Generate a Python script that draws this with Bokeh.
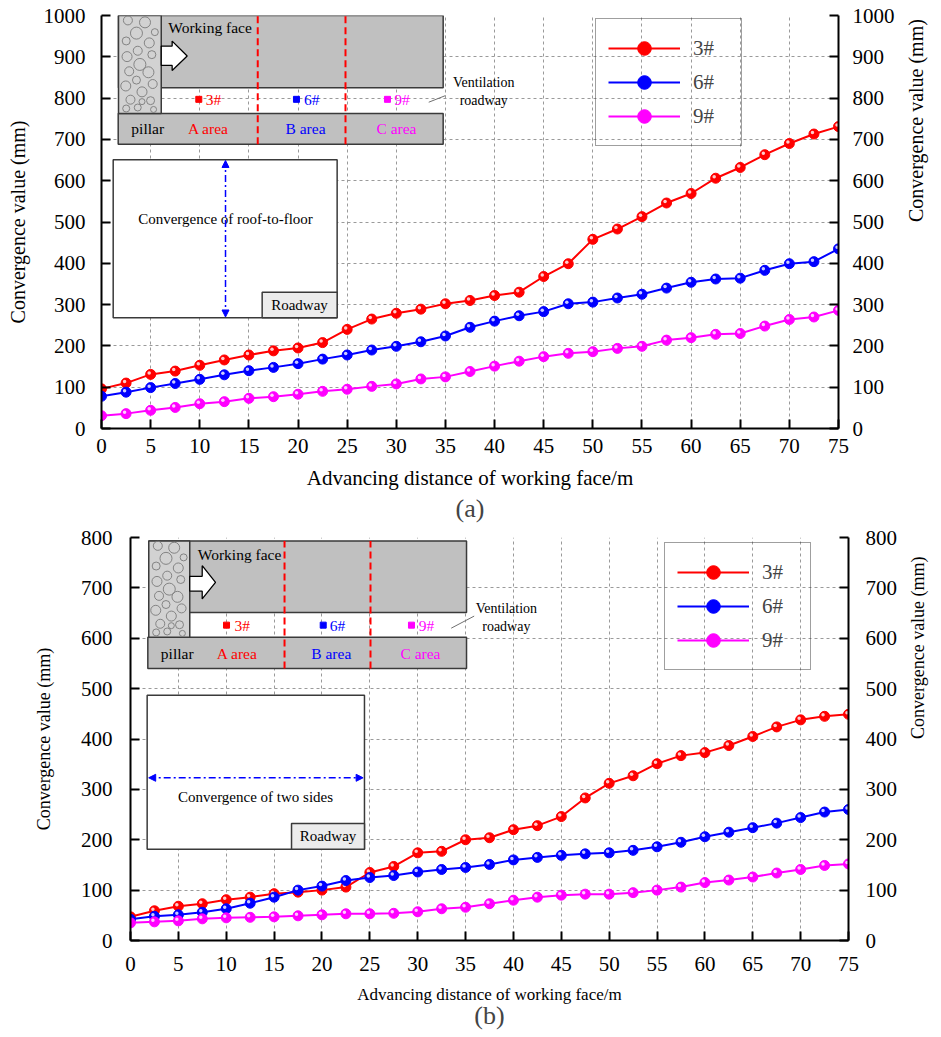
import math
from bokeh.plotting import figure
from bokeh.models import (LinearAxis, Title, Legend, LegendItem, Arrow, NormalHead,
                          FixedTicker, ColumnDataSource)
from bokeh.transform import dodge
from bokeh.core.properties import value
from bokeh.embed import file_html
from bokeh.resources import INLINE

# ---------------- data ----------------
distance = [0, 2.5, 5, 7.5, 10, 12.5, 15, 17.5, 20, 22.5, 25, 27.5, 30, 32.5, 35, 37.5,
            40, 42.5, 45, 47.5, 50, 52.5, 55, 57.5, 60, 62.5, 65, 67.5, 70, 72.5, 75]
series_names = ["3#", "6#", "9#"]
series_colors = ["#ff0000", "#0000ff", "#ff00ff"]

roof_3 = [96, 110, 131, 139, 153, 166, 178, 188, 195, 208, 240, 265, 279, 289, 302, 310,
          322, 330, 368, 399, 458, 483, 513, 546, 569, 606, 632, 663, 690, 713, 731]
roof_6 = [78, 88, 99, 109, 119, 130, 140, 148, 157, 168, 178, 190, 199, 210, 224, 245,
          260, 273, 283, 302, 306, 316, 325, 340, 354, 362, 364, 383, 399, 404, 435]
roof_9 = [31, 36, 44, 51, 60, 65, 73, 77, 83, 90, 95, 102, 108, 120, 125, 138,
          151, 163, 174, 182, 186, 194, 199, 214, 220, 228, 230, 248, 264, 270, 286]

sides_3 = [47, 59, 68, 73, 81, 86, 93, 96, 100, 106, 135, 147, 174, 177, 200, 204,
           220, 228, 246, 283, 312, 327, 351, 367, 373, 387, 405, 424, 438, 445, 449]
sides_6 = [42, 48, 51, 56, 63, 74, 86, 100, 108, 119, 125, 129, 136, 141, 145, 151,
           160, 165, 169, 172, 174, 179, 186, 195, 206, 215, 224, 233, 244, 255, 260]
sides_9 = [35, 37, 39, 43, 45, 46, 47, 49, 51, 53, 53, 54, 57, 63, 66, 73,
           80, 86, 90, 92, 92, 95, 100, 106, 115, 120, 126, 134, 141, 149, 152]

x_ticks = [0, 5, 10, 15, 20, 25, 30, 35, 40, 45, 50, 55, 60, 65, 70, 75]
y_ticks_a = [0, 100, 200, 300, 400, 500, 600, 700, 800, 900, 1000]
y_ticks_b = [0, 100, 200, 300, 400, 500, 600, 700, 800]

x_title = "Advancing distance of working face/m"
y_title = "Convergence value (mm)"

FONT = "Liberation Serif"


def style_axes(p, yticks, lab_size, tick_std_x, lab_std_x, tick_std_y, lab_std_y,
               tick_std_r, lab_std_r, ylab_size):
    p.outline_line_color = None
    ax_r = LinearAxis()
    p.add_layout(ax_r, "right")
    for ax in p.axis:
        ax.axis_line_width = 2
        ax.axis_line_color = "black"
        ax.major_tick_line_width = 2
        ax.major_tick_line_color = "black"
        ax.major_tick_in = 9
        ax.major_tick_out = 0
        ax.minor_tick_line_color = None
        ax.major_label_text_font = FONT
        ax.major_label_text_font_size = "21px"
        ax.major_label_text_color = "black"
        ax.axis_label_text_font = FONT
        ax.axis_label_text_font_style = "normal"
        ax.axis_label_text_color = "black"
    p.xaxis.ticker = FixedTicker(ticks=x_ticks)
    p.xaxis.axis_label = x_title
    p.xaxis.axis_label_text_font_size = lab_size
    p.xaxis.major_label_standoff = tick_std_x
    p.xaxis.axis_label_standoff = lab_std_x
    for ax in p.yaxis:
        ax.ticker = FixedTicker(ticks=yticks)
        ax.axis_label = y_title
        ax.axis_label_text_font_size = ylab_size
    p.left[0].major_label_standoff = tick_std_y
    p.left[0].axis_label_standoff = lab_std_y
    ax_r.major_label_standoff = tick_std_r
    ax_r.axis_label_standoff = lab_std_r
    ax_r.axis_label_orientation = math.pi / 2
    for g in (p.xgrid, p.ygrid):
        g.grid_line_color = "#9a9a9a"
        g.grid_line_dash = "3 3"
        g.grid_line_width = 1
    p.xgrid.ticker = FixedTicker(ticks=x_ticks)
    p.ygrid.ticker = FixedTicker(ticks=yticks)


def add_series(p, ys_list, dx, dy, legend_loc):
    items = []
    for name, color, ys in zip(series_names, series_colors, ys_list):
        src = ColumnDataSource(dict(x=distance, y=ys))
        ln = p.line("x", "y", source=src, line_color=color, line_width=2)
        sc = p.scatter("x", "y", source=src, marker="circle", size=10,
                       fill_color=color, line_color=color, line_width=1)
        p.scatter(x=dodge("x", dx), y=dodge("y", dy), source=src, marker="circle",
                  size=3.5, fill_color="white", fill_alpha=0.8, line_color=None)
        items.append(LegendItem(label=name, renderers=[ln, sc]))
    leg = Legend(items=items, location=legend_loc, glyph_width=72, glyph_height=34,
                 spacing=0, padding=12, label_standoff=13, label_width=36,
                 label_text_font=FONT, label_text_font_size="21px",
                 background_fill_alpha=0, border_line_color="#404040",
                 border_line_width=1.2, margin=0)
    p.add_layout(leg)


def add_schematic(p, s):
    gray = "#c0c0c0"
    edge = "#3a3a3a"
    p.quad(left=[s["pl"]], right=[s["r"]], bottom=[s["wf_b"]], top=[s["t"]],
           fill_color=gray, line_color=edge, line_width=1.5)
    p.quad(left=[s["sl"]], right=[s["r"]], bottom=[s["st_b"]], top=[s["st_t"]],
           fill_color=gray, line_color=edge, line_width=1.5)
    p.quad(left=[s["pl"]], right=[s["pr"]], bottom=[s["st_t"]], top=[s["t"]],
           fill_color="#d2d2d2", line_color=edge, line_width=1.5)
    # stone pattern of the pillar
    fx = [0.22, 0.62, 0.85, 0.42, 0.18, 0.72, 0.45, 0.2, 0.78, 0.5, 0.25,
          0.7, 0.42, 0.17, 0.8, 0.55, 0.28, 0.75, 0.45, 0.18, 0.82, 0.55]
    fy = [0.95, 0.93, 0.83, 0.82, 0.74, 0.72, 0.64, 0.58, 0.6, 0.5, 0.43,
          0.42, 0.34, 0.28, 0.3, 0.22, 0.14, 0.13, 0.06, 0.05, 0.04, 0.12]
    sz = [9, 11, 7, 12, 8, 10, 9, 10, 8, 12, 9, 11, 8, 10, 9, 10, 9, 8, 7, 7, 6, 6]
    cx = [s["pl"] + f * (s["pr"] - s["pl"]) for f in fx]
    cy = [s["st_t"] + f * (s["t"] - s["st_t"]) for f in fy]
    p.scatter(cx, cy, marker="circle", size=sz, fill_color=None,
              line_color="#7a7a7a", line_width=0.9)
    for xv in s["div"]:
        p.line([xv, xv], [s["st_b"], s["t"]], line_color="#ff0000", line_width=2,
               line_dash="7 4")
    a = s["arrow"]
    p.patch(a[0], a[1], fill_color="white", line_color="black", line_width=1.3)
    fs = "15.5px"
    p.text([s["wf_x"]], [s["wf_y"]], text=["Working face"], text_font=value(FONT),
           text_font_size=fs, text_align="left", text_baseline="middle", text_color="black")
    p.scatter(s["pt_x"], [s["pt_y"]] * 3, marker="square", size=6,
              fill_color=series_colors, line_color=series_colors)
    p.text(s["pt_tx"], [s["pt_y"]] * 3, text=series_names, text_font=value(FONT),
           text_font_size=fs, text_align="left", text_baseline="middle",
           text_color=series_colors)
    p.text([s["pil_x"]], [s["lab_y"]], text=["pillar"], text_font=value(FONT),
           text_font_size=fs, text_align="center", text_baseline="middle", text_color="black")
    p.text(s["area_x"], [s["lab_y"]] * 3, text=["A area", "B area", "C area"],
           text_font=value(FONT), text_font_size=fs, text_align="center",
           text_baseline="middle", text_color=series_colors)
    p.line(s["lead"][0], s["lead"][1], line_color="#707070", line_width=1)
    p.text([s["vent_x"]] * 2, s["vent_y"], text=["Ventilation", "roadway"],
           text_font=value(FONT), text_font_size="14px", text_align="center",
           text_baseline="middle", text_color="black")
    rb = s["road"]
    p.quad(left=[rb[0]], right=[rb[1]], bottom=[rb[2]], top=[rb[3]],
           fill_color="white", line_color=edge, line_width=1.5)
    sb = s["small"]
    p.quad(left=[sb[0]], right=[rb[1]], bottom=[rb[2]], top=[sb[1]],
           fill_color="#ececec", line_color=edge, line_width=1.5)
    p.text([s["rw_x"]], [s["rw_y"]], text=["Roadway"], text_font=value(FONT),
           text_font_size="15px", text_align="center", text_baseline="middle",
           text_color="black")
    ar = s["conv_arrow"]
    p.add_layout(Arrow(x_start=ar[0], y_start=ar[1], x_end=ar[2], y_end=ar[3],
                       start=NormalHead(size=7, fill_color="#0000ff", line_color="#0000ff"),
                       end=NormalHead(size=7, fill_color="#0000ff", line_color="#0000ff"),
                       line_color="#0000ff", line_width=1.5, line_dash="7 3 2 3"))
    p.text([s["ct_x"]], [s["ct_y"]], text=[s["ct"]], text_font=value(FONT),
           text_font_size="15px", text_align="center", text_baseline="middle",
           text_color="black")


# ---------------- figure (a) ----------------
pa = figure(frame_width=737, frame_height=413, x_range=(0, 75), y_range=(0, 1000),
            output_backend="svg", toolbar_location=None,
            min_border_left=101, min_border_right=100, min_border_top=15, min_border_bottom=97)
style_axes(pa, y_ticks_a, "21px", 10, 10, 16, 12, 14, 18, "20px")
sch_a = dict(
    pl=1.73, pr=6.08, r=34.77, t=1000, wf_b=825, sl=1.7, st_t=763, st_b=688,
    div=[15.9, 24.83],
    arrow=([6.08, 7.19, 7.19, 8.72, 7.19, 7.19, 6.08],
           [879, 879, 867, 902, 938, 926, 926]),
    wf_x=6.8, wf_y=970,
    pt_x=[9.9, 19.84, 29.1], pt_tx=[10.6, 20.6, 29.8], pt_y=797,
    pil_x=4.7, lab_y=726, area_x=[10.87, 20.76, 30.02],
    lead=([33.3, 35.0], [790, 806]), vent_x=38.9, vent_y=[838, 794],
    road=[1.19, 23.98, 268, 651], small=[16.35, 330], rw_x=20.15, rw_y=299,
    conv_arrow=[12.62, 270, 12.62, 649], ct_x=12.62, ct_y=508,
    ct="Convergence of roof-to-floor",
)
add_schematic(pa, sch_a)
add_series(pa, [roof_3, roof_6, roof_9], -0.15, 3.6, (494, 282))
pa.add_layout(Title(text="(a)", align="center", text_font=FONT, text_font_size="26px",
                    text_font_style="normal", standoff=-2), "below")

# ---------------- figure (b) ----------------
pb = figure(frame_width=718, frame_height=403, x_range=(0, 75), y_range=(0, 800),
            output_backend="svg", toolbar_location=None,
            min_border_left=130, min_border_right=92, min_border_top=12, min_border_bottom=95)
style_axes(pb, y_ticks_b, "17px", 16, 11, 18, 24, 17, 18, "18px")
sch_b = dict(
    pl=1.91, pr=6.19, r=35.1, t=793, wf_b=651, sl=1.81, st_t=602, st_b=540,
    div=[16.09, 25.07],
    arrow=([6.19, 7.49, 7.49, 8.88, 7.49, 7.49, 6.19],
           [693.5, 693.5, 678, 711, 744, 723, 723]),
    wf_x=7.03, wf_y=766,
    pt_x=[10.03, 20.13, 29.35], pt_tx=[10.86, 20.82, 30.1], pt_y=626,
    pil_x=4.88, lab_y=570, area_x=[11.15, 20.97, 30.29],
    lead=([33.5, 35.9], [620, 644]), vent_x=39.26, vent_y=[660, 624],
    road=[1.74, 24.44, 181, 487], small=[16.82, 232.5], rw_x=20.63, rw_y=207,
    conv_arrow=[1.9, 323, 24.3, 323], ct_x=13.06, ct_y=285,
    ct="Convergence of two sides",
)
add_schematic(pb, sch_b)
add_series(pb, [sides_3, sides_6, sides_9], -0.16, 3.0, (534, 270))
pb.add_layout(Title(text="(b)", align="center", text_font=FONT, text_font_size="26px",
                    text_font_style="normal", standoff=-15), "below")

open("out.html", "w").write(file_html([pa, pb], INLINE))
